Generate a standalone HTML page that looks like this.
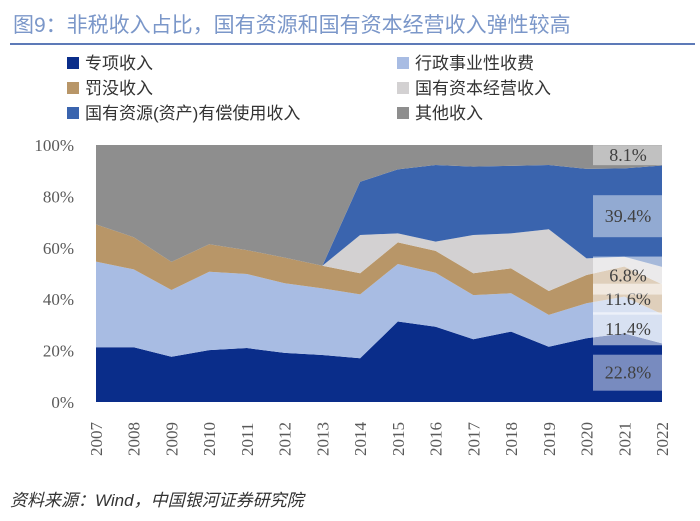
<!DOCTYPE html>
<html><head><meta charset="utf-8"><style>
body{margin:0;background:#fff;}
svg{display:block;}
</style></head><body>
<svg id="chart" width="700" height="521" xmlns="http://www.w3.org/2000/svg" font-family="'Liberation Serif','Noto Serif CJK SC',serif">
<text x="13" y="32" font-size="21" fill="#7b97c9" font-family="'Liberation Sans','Noto Sans CJK SC',sans-serif">图9：非税收入占比，国有资源和国有资本经营收入弹性较高</text>
<rect x="10" y="43" width="685" height="2" fill="#5d7ab8"/>
<g id="legend" font-size="17" fill="#333" font-family="'Liberation Sans','Noto Sans CJK SC',sans-serif"></g>
<g id="plot"></g>
<g id="axes" font-size="17" fill="#595959"></g>
<g id="labels" font-size="18" fill="#404040"></g>
<text x="10" y="506" font-size="17" font-style="italic" fill="#333" font-family="'Liberation Sans','Noto Sans CJK SC',sans-serif">资料来源：Wind，中国银河证券研究院</text>
</svg>
<script>
const years=["2007","2008","2009","2010","2011","2012","2013","2014","2015","2016","2017","2018","2019","2020","2021","2022"];
const seriesNames=["专项收入","行政事业性收费","罚没收入","国有资本经营收入","国有资源(资产)有偿使用收入","其他收入"];
const zhuanxiang=[21.3,21.3,17.6,20.2,21.0,19.1,18.3,17.0,31.3,29.3,24.4,27.4,21.5,24.8,26.7,22.8];
const xingzheng=[33.3,30.3,26.0,30.5,28.8,27.1,25.9,24.9,22.4,21.0,17.2,14.9,12.4,13.6,14.3,11.4];
const famo=[14.5,12.5,10.9,10.7,9.3,10.0,8.8,8.2,8.4,8.5,8.5,9.7,9.3,11.0,11.7,11.6];
const guoyouziben=[0,0,0,0,0,0,0,14.9,3.5,3.6,14.9,13.6,24.0,6.5,3.8,6.8];
const guoyouziyuan=[0,0,0,0,0,0,0,20.7,24.9,29.8,26.6,26.3,25.0,34.8,34.4,39.4];
const qita=[30.9,35.9,45.5,38.6,40.9,43.8,47.0,14.3,9.5,7.8,8.4,8.1,7.8,9.3,9.1,8.1];
const yTicks=[0,20,40,60,80,100];
const labelTexts=["22.8%","11.4%","11.6%","6.8%","39.4%","8.1%"];

const colors=["#0a2d8a","#a8bce3","#b89668","#d3d1d2","#3a64ae","#8e8e8e"];
const allSeries=[zhuanxiang,xingzheng,famo,guoyouziben,guoyouziyuan,qita];
const X0=96,X1=662,Y0=402,Y1=145;
const xs=i=>X0+(X1-X0)*i/(years.length-1);
const ys=v=>Y0-(Y0-Y1)*v/100;
const NS="http://www.w3.org/2000/svg";
function mk(tag,attrs,parent){const e=document.createElementNS(NS,tag);for(const k in attrs)e.setAttribute(k,attrs[k]);parent.appendChild(e);return e;}

const plot=document.getElementById('plot');
const n=years.length;
let base=new Array(n).fill(0);
const tops=[];
allSeries.forEach((s,si)=>{
  const top=base.map((b,i)=>b+s[i]);
  if(si===allSeries.length-1){for(let i=0;i<n;i++)top[i]=100;}
  let d="M"+xs(0)+","+ys(top[0]);
  for(let i=1;i<n;i++)d+=" L"+xs(i)+","+ys(top[i]);
  for(let i=n-1;i>=0;i--)d+=" L"+xs(i)+","+ys(base[i]);
  d+=" Z";
  const p=mk('path',{d:d,fill:colors[si]},plot);
  
  
  tops.push(top.slice());
  base=top;
});

const axes=document.getElementById('axes');
yTicks.forEach(t=>{
  const tx=mk('text',{x:74,y:ys(t)+6,'text-anchor':'end'},axes);
  tx.textContent=t+"%";
  
  
});
years.forEach((y,i)=>{
  const tx=mk('text',{x:0,y:0,transform:`translate(${xs(i)+6},456) rotate(-90)`},axes);
  tx.textContent=y;
  
  
});

// value labels for last year
const labels=document.getElementById('labels');
const boxH=[36,33,31,38,42,20];
const last=n-1;
let b=0;
allSeries.forEach((s,si)=>{
  const mid=ys(b+s[last]/2);
  b+=s[last];
  const h=boxH[si];
  const r=mk('rect',{x:593,y:mid-h/2,width:69,height:h,fill:'#ffffff','fill-opacity':si===3||si===2||si===1?0.55:0.45},labels);
  
  
  const t=mk('text',{x:628,y:mid+6,'text-anchor':'middle'},labels);
  t.textContent=labelTexts[si];
  
  
});

const legend=document.getElementById('legend');
seriesNames.forEach((nm,i)=>{
  const col=i%2,row=Math.floor(i/2);
  const lx=col===0?67:397, ly=63+row*25;
  const r=mk('rect',{x:lx,y:ly-6,width:12,height:12,fill:colors[i]},legend);
  
  
  const t=mk('text',{x:lx+18,y:ly+6},legend);
  t.textContent=nm;
  
  
});
</script>
</body></html>
